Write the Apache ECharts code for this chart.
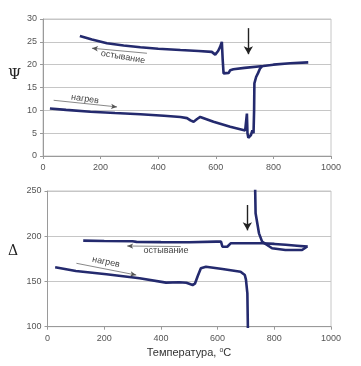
<!DOCTYPE html>
<html><head><meta charset="utf-8">
<script src="https://cdn.jsdelivr.net/npm/echarts@6/dist/echarts.min.js"></script>
<style>html,body{margin:0;padding:0;background:#fff}#c{width:361px;height:366px}</style>
</head><body><div id="c"></div>
<script>
// Ψ (top panel) – heating curve [T, Ψ]
const psiHeating = [[24,10.4],[80,10.1],[165,9.7],[250,9.4],[338,9.15],[420,8.8],[477,8.55],[500,8.3],[512,7.8],[523,7.5],[535,8.1],[546,8.55],[592,7.5],[650,6.4],[702,5.6],[706,5.5],[708,9.3],[710,5.0],[713,4.0],[718,4.0],[722,4.6],[727,5.6],[731,5.0],[733,10.0],[734,15.9],[740,17.3],[747,18.2],[754,19.2],[760,19.6]];
// Ψ – cooling curve [T, Ψ]
const psiCooling = [[921,20.5],[858,20.3],[800,20.0],[765,19.7],[700,19.3],[661,19.0],[650,18.8],[645,18.2],[627,18.1],[624,21.0],[621,25.0],[615,23.9],[608,23.0],[598,22.2],[586,22.8],[540,23.0],[477,23.2],[400,23.5],[338,23.8],[280,24.2],[222,24.7],[170,25.5],[128,26.3]];
// Δ (bottom panel) – heating curve [T, Δ]
const deltaHeating = [[27,165.7],[100,161.5],[208,157.9],[325,153.5],[418,148.7],[465,149.1],[490,148.5],[512,146.1],[520,147.5],[523,149.7],[530,156],[541,164.6],[559,166.3],[617,163.8],[681,160.8],[696,157.1],[700,152],[705,136.9],[707,95],[720,null],[732,260],[734,225.4],[740,214.3],[746,203.2],[757,194],[792,186.7],[839,184.8],[898,184.8],[915,188.4]];
// Δ – cooling curve [T, Δ]
const deltaCooling = [[918,188.5],[880,189.5],[840,190.5],[800,191.5],[757,192.2],[700,192.2],[646,192.2],[640,190],[634,188.4],[617,188.4],[612,194],[605,195.8],[595,194],[500,193.3],[400,193.5],[314,193.8],[300,194.5],[200,194.8],[126,195.1]];

const xTicks = [0,200,400,600,800,1000];
const psiTicks = [0,5,10,15,20,25,30];
const deltaTicks = [100,150,200,250];

// annotation arrows [[T1,v1],[T2,v2]] (arrowhead at second point)
const psiCoolArrow = [[361,22.5],[170,23.6]];
const psiHeatArrow = [[37,12.2],[257,10.75]];
const psiMarkArrow = [[713,28.0],[713,22.3]];
const deltaCoolArrow = [[470,188.6],[281,189.2]];
const deltaHeatArrow = [[102,170.1],[313,157.1]];
const deltaMarkArrow = [[705,234.5],[705,206.5]];

const LINE = '#242a6e';
const GRID = '#c6c6c6';
const AX = '#9a9a9a';
const TXT = '#555';
const FONT = 'Liberation Sans, Arial, sans-serif';

function xAx(idx){
  return {type:'value', gridIndex:idx, min:xTicks[0], max:xTicks[xTicks.length-1], interval:xTicks[1]-xTicks[0],
    axisLine:{show:true, lineStyle:{color:AX}},
    axisTick:{show:true, length:3, lineStyle:{color:AX}},
    axisLabel:{color:TXT, fontSize:9, fontFamily:FONT, margin:7, formatter:v=>String(v)},
    splitLine:{show:false}};
}
function yAx(idx,ticks){
  return {type:'value', gridIndex:idx, min:ticks[0], max:ticks[ticks.length-1], interval:ticks[1]-ticks[0],
    axisLine:{show:true, lineStyle:{color:AX}},
    axisTick:{show:true, length:3, lineStyle:{color:AX}},
    axisLabel:{color:TXT, fontSize:9, fontFamily:FONT, margin:6},
    splitLine:{show:true, lineStyle:{color:GRID, width:1}}};
}
function thinArrow(c){
  return {silent:true, symbol:['none','arrow'], symbolSize:[4,6], label:{show:false},
    lineStyle:{color:'#555', width:0.7, type:'solid'}, data:[[{coord:c[0]},{coord:c[1]}]]};
}
function bigArrow(c){
  return {silent:true, symbol:['none','arrow'], symbolSize:[7,8], label:{show:false},
    lineStyle:{color:'#222', width:1.4, type:'solid'}, data:[[{coord:c[0]},{coord:c[1]}]]};
}
function curve(name, data, xi, yi, mk){
  return {name:name, type:'line', xAxisIndex:xi, yAxisIndex:yi, data:data,
    showSymbol:false, symbol:'none', connectNulls:false, clip:true, animation:false,
    lineStyle:{color:LINE, width:2.6}, itemStyle:{color:LINE},
    markLine: mk};
}

const chart = echarts.init(document.getElementById('c'), null, {renderer:'canvas'});
const series = [
  curve('Ψ нагрев', psiHeating, 0, 0, thinArrow(psiHeatArrow)),
  curve('Ψ остывание', psiCooling, 0, 0, thinArrow(psiCoolArrow)),
  curve('Δ нагрев', deltaHeating, 1, 1, thinArrow(deltaHeatArrow)),
  curve('Δ остывание', deltaCooling, 1, 1, thinArrow(deltaCoolArrow)),
  {type:'line', xAxisIndex:0, yAxisIndex:0, data:[], markLine:bigArrow(psiMarkArrow), animation:false},
  {type:'line', xAxisIndex:1, yAxisIndex:1, data:[], markLine:bigArrow(deltaMarkArrow), animation:false}
];

chart.setOption({
  animation:false,
  backgroundColor:'#fff',
  grid:[
    {left:43, right:30, top:19, bottom:210, show:true, borderColor:GRID, borderWidth:1},
    {left:47.5, right:30, top:191, bottom:39.3, show:true, borderColor:GRID, borderWidth:1}
  ],
  xAxis:[xAx(0), xAx(1)],
  yAxis:[yAx(0,psiTicks), yAx(1,deltaTicks)],
  series: series,
  graphic:[
    {type:'text', left:8, top:68, style:{text:'Ψ', font:'15px "DejaVu Serif", serif', fill:'#222'}},
    {type:'text', left:8, top:244, style:{text:'Δ', font:'14px "DejaVu Serif", serif', fill:'#222'}},
    {type:'text', x:123, y:57, rotation:-0.17, style:{text:'остывание', font:'9px "Liberation Sans", Arial, sans-serif', fill:'#444', align:'center', verticalAlign:'middle'}},
    {type:'text', x:85, y:99, rotation:-0.14, style:{text:'нагрев', font:'9px "Liberation Sans", Arial, sans-serif', fill:'#444', align:'center', verticalAlign:'middle'}},
    {type:'text', x:166, y:251, style:{text:'остывание', font:'9px "Liberation Sans", Arial, sans-serif', fill:'#444', align:'center', verticalAlign:'middle'}},
    {type:'text', x:106, y:262, rotation:-0.2, style:{text:'нагрев', font:'9px "Liberation Sans", Arial, sans-serif', fill:'#444', align:'center', verticalAlign:'middle'}},
    {type:'text', x:189, y:353, style:{
      text:'Температура, {s|o}C', align:'center', verticalAlign:'middle',
      font:'11px "Liberation Sans", Arial, sans-serif', fill:'#333',
      rich:{s:{fontSize:7, fontFamily:'Liberation Sans', verticalAlign:'top', padding:[0,0,6,0], fill:'#333'}}
    }}
  ]
});
</script></body></html>
